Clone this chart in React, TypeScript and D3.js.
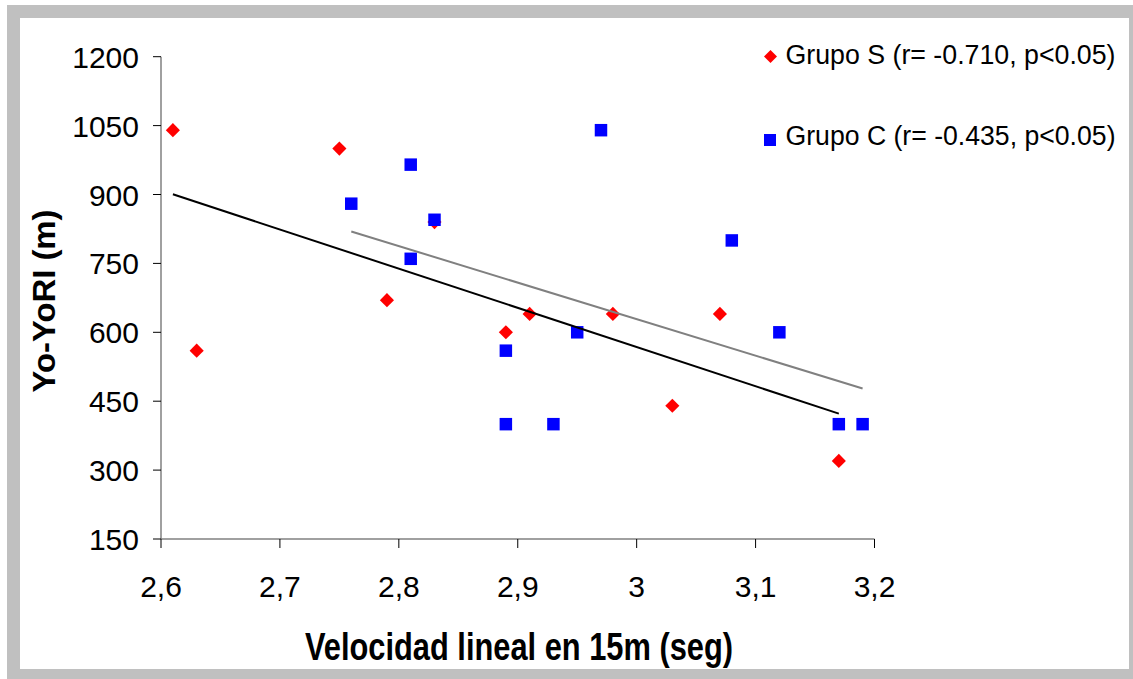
import * as d3 from "d3";

// Grupo S (red diamonds)
const speedS = [2.61, 2.63, 2.75, 2.79, 2.83, 2.89, 2.91, 2.98, 3.03, 3.07, 3.17];
const yoyoS = [1040, 560, 1000, 670, 840, 600, 640, 640, 440, 640, 320];
// Grupo C (blue squares)
const speedC = [2.76, 2.81, 2.83, 2.81, 2.89, 2.89, 2.93, 2.95, 2.97, 3.08, 3.12, 3.17, 3.19];
const yoyoC = [880, 965, 845, 760, 560, 400, 400, 600, 1040, 800, 600, 400, 400];

const xTicks = [2.6, 2.7, 2.8, 2.9, 3.0, 3.1, 3.2];
const yTicks = [150, 300, 450, 600, 750, 900, 1050, 1200];
const legendLabels = ["Grupo S (r= -0.710, p<0.05)", "Grupo C (r= -0.435, p<0.05)"];

const font = "'Liberation Sans', Arial, sans-serif";

// least squares fit over the points of one group
function fit(xs: number[], ys: number[]) {
  const mx = d3.mean(xs)!;
  const my = d3.mean(ys)!;
  let num = 0;
  let den = 0;
  xs.forEach((x, i) => {
    num += (x - mx) * (ys[i] - my);
    den += (x - mx) * (x - mx);
  });
  const b = num / den;
  const a = my - b * mx;
  const [x0, x1] = d3.extent(xs) as [number, number];
  return [
    [x0, a + b * x0],
    [x1, a + b * x1],
  ];
}

export default function App() {
  const width = 1133;
  const height = 679;

  const x = d3.scaleLinear().domain([2.6, 3.2]).range([161, 874.5]);
  const y = d3.scaleLinear().domain([150, 1200]).range([539, 56.7]);

  const line = d3
    .line<number[]>()
    .x((d) => x(d[0]))
    .y((d) => y(d[1]));

  const square = d3.symbol(d3.symbolSquare, 156)()!;
  const diamond = d3.symbol(d3.symbolSquare, 100)()!;
  const legendSquare = d3.symbol(d3.symbolSquare, 144)()!;
  const legendDiamond = d3.symbol(d3.symbolSquare, 85)()!;

  const fmt = (v: number) => String(v).replace(".", ",");

  return (
    <svg
      width={width}
      height={height}
      style={{ position: "absolute", left: 0, top: 0, background: "#fff" }}
      fontFamily={font}
    >
      {/* frame */}
      <rect x={7} y={5} width={width - 7} height={height - 5} fill="#c0c0c0" />
      <rect x={20} y={18} width={1109} height={651} fill="#fff" />

      {/* y axis */}
      <line x1={x(2.6)} x2={x(2.6)} y1={y(1200)} y2={y(150)} stroke="#808080" strokeWidth={1.5} />
      {yTicks.map((t) => (
        <g key={t}>
          <line x1={153} x2={x(2.6)} y1={y(t)} y2={y(t)} stroke="#000" strokeWidth={1} />
          <text x={139} y={y(t) + 11} textAnchor="end" fontSize={30} fill="#000">
            {t}
          </text>
        </g>
      ))}

      {/* x axis */}
      <line x1={x(2.6)} x2={x(3.2)} y1={y(150)} y2={y(150)} stroke="#808080" strokeWidth={1.5} />
      {xTicks.map((t) => (
        <g key={t}>
          <line x1={x(t)} x2={x(t)} y1={y(150)} y2={y(150) + 9} stroke="#000" strokeWidth={1} />
          <text x={x(t)} y={596.5} textAnchor="middle" fontSize={30} fill="#000">
            {fmt(t)}
          </text>
        </g>
      ))}

      {/* points */}
      {speedS.map((s, i) => (
        <path
          key={"s" + i}
          d={diamond}
          transform={`translate(${x(s)},${y(yoyoS[i])}) rotate(45)`}
          fill="#ff0000"
        />
      ))}
      {speedC.map((s, i) => (
        <path key={"c" + i} d={square} transform={`translate(${x(s)},${y(yoyoC[i])})`} fill="#0000ff" />
      ))}

      {/* trend lines */}
      <path d={line(fit(speedS, yoyoS))!} stroke="#000" strokeWidth={2} fill="none" />
      <path d={line(fit(speedC, yoyoC))!} stroke="#808080" strokeWidth={2} fill="none" />

      {/* legend */}
      <path d={legendDiamond} transform="translate(770.5,56.5) rotate(45)" fill="#ff0000" />
      <text x={785.5} y={63.5} fontSize={27} fill="#000" textLength={330} lengthAdjust="spacingAndGlyphs">
        {legendLabels[0]}
      </text>
      <path d={legendSquare} transform="translate(770,140)" fill="#0000ff" />
      <text x={785.5} y={145} fontSize={27} fill="#000" textLength={330} lengthAdjust="spacingAndGlyphs">
        {legendLabels[1]}
      </text>

      {/* axis titles */}
      <text
        x={519}
        y={660}
        textAnchor="middle"
        fontSize={39}
        fontWeight="bold"
        fill="#000"
        textLength={428}
        lengthAdjust="spacingAndGlyphs"
      >
        Velocidad lineal en 15m (seg)
      </text>
      <text
        transform="translate(55,301) rotate(-90)"
        textAnchor="middle"
        fontSize={31}
        fontWeight="bold"
        fill="#000"
        textLength={183}
        lengthAdjust="spacingAndGlyphs"
      >
        Yo-YoRI (m)
      </text>
    </svg>
  );
}
